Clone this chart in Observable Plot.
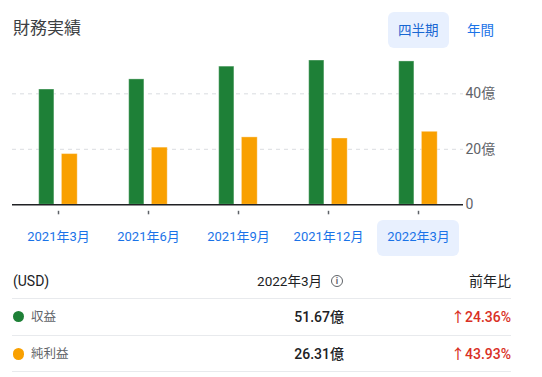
<!DOCTYPE html>
<html><head><meta charset="utf-8">
<script src="https://cdn.jsdelivr.net/npm/d3@7"></script>
<script src="https://cdn.jsdelivr.net/npm/@observablehq/plot@0.6"></script>
<style>
body{margin:0;background:#fff;font-family:Roboto,"Noto Sans CJK JP",sans-serif;}
#root{position:relative;width:542px;height:377px;overflow:hidden;background:#fff;}
.abs{position:absolute;white-space:nowrap;}
</style></head><body><div id="root"></div>
<script>
// ---- data ----
const quarters = ["2021年3月", "2021年6月", "2021年9月", "2021年12月", "2022年3月"];
const revenue = [41.55, 45.2, 49.8, 52.0, 51.67];      // 億 USD
const netIncome = [18.28, 20.6, 24.3, 23.9, 26.31];    // 億 USD
const seriesNames = ["収益", "純利益"];
const yoyChange = [24.36, 43.93];                     // %
const yTicks = [0, 20, 40];
const gridTicks = [20, 40];
const periodButtons = ["四半期", "年間"];
const selectedQuarter = "2022年3月";

// ---- styles ----
const GREEN = "#1e8037";
const ORANGE = "#f9a000";
const FONT = 'Roboto, "Noto Sans CJK JP", sans-serif';

const table = quarters.map((q, i) => ({quarter: q, revenue: revenue[i], netIncome: netIncome[i]}));

const root = document.getElementById("root");

function addText(text, o) {
  const el = document.createElement("div");
  el.className = "abs";
  el.textContent = text;
  el.style.fontSize = o.size + "px";
  el.style.lineHeight = "20px";
  el.style.top = (o.cy - 10) + "px";
  if (o.left != null) el.style.left = o.left + "px";
  else el.style.right = (542 - o.right) + "px";
  el.style.color = o.color || "#202124";
  if (o.weight) el.style.fontWeight = o.weight;
  root.appendChild(el);
  return el;
}
function addBox(o) {
  const el = document.createElement("div");
  el.className = "abs";
  Object.assign(el.style, o);
  root.appendChild(el);
  return el;
}

// title & period buttons
addText("財務実績", {left: 13, cy: 28, size: 17, color: "#3c4043"});
addBox({left: "388px", top: "12px", width: "61px", height: "36px", background: "#e8f0fe", borderRadius: "6px"});
addText(periodButtons[0], {left: 398, cy: 30, size: 13.5, color: "#1967d2"});
addText(periodButtons[1], {left: 467, cy: 30, size: 13.5, color: "#1a73e8"});

// chart
const chart = Plot.plot({
  width: 542,
  height: 225,
  marginLeft: 12,
  marginRight: 79,
  marginTop: 11.7,
  marginBottom: 60.7,
  style: {fontFamily: FONT, background: "transparent", overflow: "visible"},
  x: {type: "band", domain: quarters, padding: 0},
  y: {domain: [0, 55]},
  marks: [
    Plot.gridY(gridTicks, {stroke: "#dadce0", strokeOpacity: 1, strokeDasharray: "4,4"}),
    Plot.barY(table, {x: "quarter", y: "revenue", fill: GREEN, insetLeft: 25.7, insetRight: 49.1,
      stroke: "#ffffff", strokeOpacity: 0.35, strokeWidth: 1}),
    Plot.barY(table, {x: "quarter", y: "netIncome", fill: ORANGE, insetLeft: 48.4, insetRight: 25.8,
      stroke: "#ffffff", strokeOpacity: 0.35, strokeWidth: 1}),
    Plot.ruleY([0], {stroke: "#202124", strokeWidth: 1.5}),
    Plot.axisX({tickSize: 3.5, dy: 6.5, fill: "none", stroke: "#5f6368", strokeWidth: 1.5, label: null}),
    Plot.axisX({tickSize: 0, tickPadding: 27, fill: "#1a73e8", fontSize: 13, label: null}),
    Plot.axisY(yTicks, {anchor: "right", tickSize: 0, tickPadding: 2, fill: "#5f6368", fontSize: 14,
      label: null, tickFormat: d => d === 0 ? "0" : `${d}億`})
  ]
});

// highlight behind selected quarter label (positioned via the chart's x scale)
const xs = chart.scale("x");
const cx = xs.apply(selectedQuarter) + xs.bandwidth / 2;
addBox({left: (cx - 41) + "px", top: "220px", width: "82px", height: "36px", background: "#e8f0fe", borderRadius: "6px"});

chart.style.position = "absolute";
chart.style.left = "0px";
chart.style.top = "40px";
root.appendChild(chart);

// summary table
const lastIdx = quarters.length - 1;
addText("(USD)", {left: 13, cy: 281, size: 14});
addText(quarters[lastIdx], {right: 322, cy: 281, size: 13.5});
const info = addBox({left: "331px", top: "275px", width: "10px", height: "10px", border: "1.3px solid #5f6368",
  borderRadius: "50%", fontSize: "9px", lineHeight: "10px", textAlign: "center", color: "#5f6368", fontWeight: "bold"});
info.textContent = "i";
addText("前年比", {right: 511, cy: 281, size: 14});

[298.3, 335.7, 371.7].forEach(y => addBox({left: "12px", top: (y - 0.5) + "px", width: "499px", height: "1px", background: "#e8eaed"}));

const latest = [revenue[lastIdx], netIncome[lastIdx]];
const colors = [GREEN, ORANGE];
const rowY = [316.7, 354];
seriesNames.forEach((name, i) => {
  addBox({left: "12.5px", top: (rowY[i] - 5.6) + "px", width: "11.2px", height: "11.2px", borderRadius: "50%", background: colors[i]});
  addText(name, {left: 31, cy: rowY[i], size: 12.5, color: "#5f6368"});
  addText(latest[i].toFixed(2) + "億", {right: 344, cy: rowY[i], size: 14, weight: 500});
  addText("↑" + yoyChange[i].toFixed(2) + "%", {right: 511, cy: rowY[i], size: 14, color: "#d93025", weight: 500});
});
</script>
</body></html>
